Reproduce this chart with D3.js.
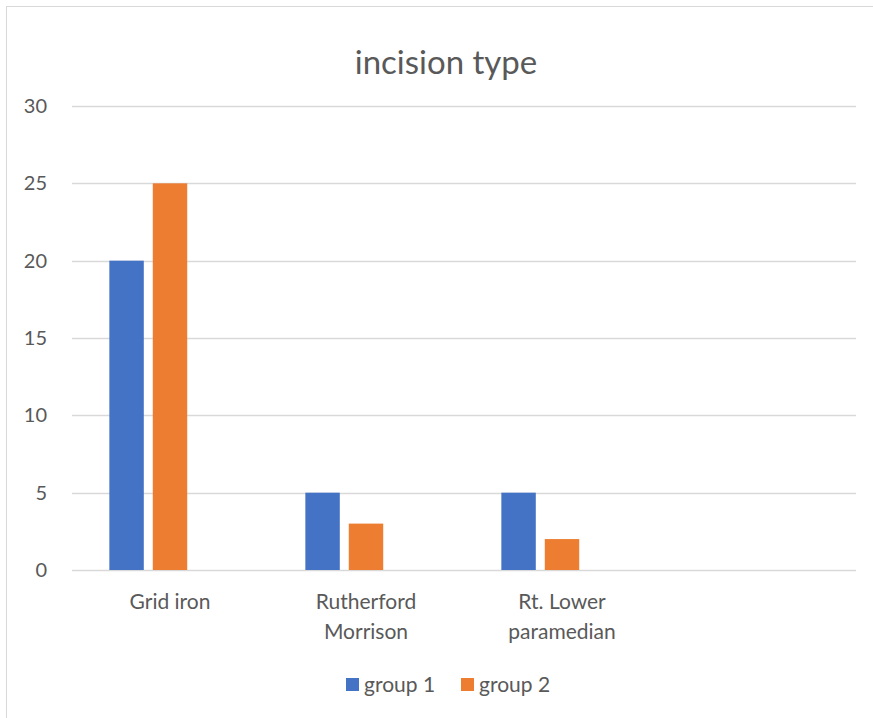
<!DOCTYPE html>
<html>
<head>
<meta charset="utf-8">
<script src="https://cdn.jsdelivr.net/npm/d3@7"></script>
<style>
  html, body { margin: 0; padding: 0; background: #ffffff; }
  svg { display: block; }
  text { font-family: Lato, "Open Sans", sans-serif; fill: #595959; }
</style>
</head>
<body>
<svg id="chart" width="873" height="718"></svg>
<script>
// Chart data
const title = "incision type";
const categories = ["Grid iron", "Rutherford Morrison", "Rt. Lower paramedian", ""];
const seriesSlots = ["group 1", "group 2", "group 3"];
const group1 = [20, 5, 5, null];
const group2 = [25, 3, 2, null];
const group3 = [null, null, null, null];
const legendSeries = ["group 1", "group 2"];
const yTicks = [0, 5, 10, 15, 20, 25, 30];
const colors = { "group 1": "#4472C4", "group 2": "#ED7D31", "group 3": "#A5A5A5" };

const seriesValues = { "group 1": group1, "group 2": group2, "group 3": group3 };

const W = 873, H = 718;
const plot = { left: 72, right: 856, top: 106, bottom: 570 };
const labelSize = 21;

const svg = d3.select("#chart");

// Chart area border
svg.append("rect")
  .attr("x", 6.5).attr("y", 6.5)
  .attr("width", W + 10).attr("height", H + 10)
  .attr("fill", "none").attr("stroke", "#D9D9D9").attr("stroke-width", 1);

// Scales
const x = d3.scaleBand().domain(d3.range(categories.length))
  .range([plot.left, plot.right]).paddingInner(0).paddingOuter(0);
const xs = d3.scaleBand().domain(seriesSlots)
  .range([0, x.bandwidth()]).paddingInner(0.207).paddingOuter(0.86);
const y = d3.scaleLinear().domain([0, 30]).range([plot.bottom, plot.top]);

// Gridlines
svg.append("g").selectAll("line").data(yTicks).join("line")
  .attr("x1", plot.left).attr("x2", plot.right)
  .attr("y1", d => Math.round(y(d)) + 0.5).attr("y2", d => Math.round(y(d)) + 0.5)
  .attr("stroke", "#D9D9D9").attr("stroke-width", 1.3);

// Y axis labels
const yAxis = d3.axisLeft(y).tickValues(yTicks).tickSize(0).tickPadding(0);
const gy = svg.append("g").attr("transform", `translate(${47},0)`).call(yAxis);
gy.select(".domain").remove();
gy.selectAll("text").attr("font-size", 20).attr("fill", "#595959")
  .style("font-family", "Lato, 'Open Sans', sans-serif");

// Bars
const barData = [];
seriesSlots.forEach(s => {
  seriesValues[s].forEach((v, i) => {
    if (v != null) barData.push({ s, i, v });
  });
});
svg.append("g").selectAll("rect").data(barData).join("rect")
  .attr("x", d => x(d.i) + xs(d.s))
  .attr("width", xs.bandwidth())
  .attr("y", d => y(d.v))
  .attr("height", d => y(0) - y(d.v))
  .attr("fill", d => colors[d.s]);

// Category labels, wrapped by word
const maxLabelWidth = 150;
const gx = svg.append("g");
categories.forEach((c, i) => {
  if (!c) return;
  const t = gx.append("text")
    .attr("x", x(i) + x.bandwidth() / 2)
    .attr("text-anchor", "middle")
    .attr("font-size", labelSize);
  const words = c.split(" ");
  const lines = [];
  let cur = [];
  const probe = t.append("tspan");
  words.forEach(w => {
    const trial = cur.concat([w]).join(" ");
    probe.text(trial);
    if (cur.length && probe.node().getComputedTextLength() > maxLabelWidth) {
      lines.push(cur.join(" "));
      cur = [w];
    } else {
      cur.push(w);
    }
  });
  if (cur.length) lines.push(cur.join(" "));
  probe.remove();
  lines.forEach((ln, k) => {
    t.append("tspan")
      .attr("x", x(i) + x.bandwidth() / 2)
      .attr("y", 609 + k * 30)
      .text(ln);
  });
});

// Title
svg.append("text")
  .attr("x", 446).attr("y", 74)
  .attr("text-anchor", "middle")
  .attr("font-size", 33)
  .text(title);

// Legend
const legendPos = { "group 1": 346, "group 2": 461 };
const lg = svg.append("g");
legendSeries.forEach(s => {
  lg.append("rect")
    .attr("x", legendPos[s]).attr("y", 678)
    .attr("width", 13).attr("height", 13)
    .attr("fill", colors[s]);
  lg.append("text")
    .attr("x", legendPos[s] + 18).attr("y", 692)
    .attr("font-size", labelSize)
    .text(s);
});
</script>
</body>
</html>
